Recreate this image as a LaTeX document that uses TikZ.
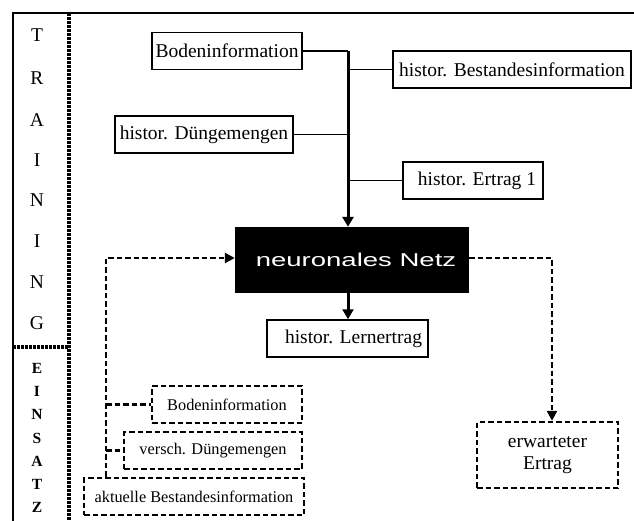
\documentclass[tikz,border=0pt]{standalone}
\usepackage{fontspec}
\setmainfont{Liberation Serif}
\newfontfamily\netfont{Liberation Sans}
\usetikzlibrary{arrows.meta}
\tikzset{
  solidbox/.style={draw=black, line width=1.5pt, minimum height=37pt, inner sep=0pt,
    font=\fontsize{19.5}{22}\selectfont},
  dashbox/.style={draw=black, line width=2.4pt, dash pattern=on 5.5pt off 3pt, minimum height=37pt, inner sep=0pt,
    font=\fontsize{16.3}{19}\selectfont},
  thinline/.style={line width=1.5pt},
  spine/.style={line width=3pt, -{Triangle[length=10pt,width=11pt]}},
  dashline/.style={line width=2.4pt, dash pattern=on 5.5pt off 3pt},
  dasharrow/.style={dashline, -{Triangle[length=10pt,width=10pt]}},
  letter/.style={font=\fontsize{19.5}{22}\selectfont},
  bletter/.style={font=\bfseries\fontsize{15.5}{18}\selectfont},
  divider/.style={line width=3.6pt, dash pattern=on 2.6pt off 1.4pt},
}
\begin{document}
\begin{tikzpicture}[x=1pt,y=-1pt]
\useasboundingbox (0,0) rectangle (634,521);
% frame
\draw[line width=2.6pt] (13,523) -- (13,13) -- (636,13);
\draw[divider] (69,13) -- (69,521);
\draw[divider] (13,347) -- (69,347);
% TRAINING
\node[letter] (t1) at (37,35) {T};
\node[letter] (t2) at (37,78) {R};
\node[letter] (t3) at (37,120) {A};
\node[letter] (t4) at (37,160) {I};
\node[letter] (t5) at (37,200) {N};
\node[letter] (t6) at (37,241) {I};
\node[letter] (t7) at (37,282) {N};
\node[letter] (t8) at (37,323) {G};
% EINSATZ
\node[bletter] (e1) at (37,368) {E};
\node[bletter] (e2) at (37,391) {I};
\node[bletter] (e3) at (37,414) {N};
\node[bletter] (e4) at (37,438) {S};
\node[bletter] (e5) at (37,461) {A};
\node[bletter] (e6) at (37,484) {T};
\node[bletter] (e7) at (37,507) {Z};
% training nodes
\node[solidbox, minimum width=150pt] (bod1) at (227,51) {Bodeninformation};
\node[solidbox, minimum width=238pt] (bestand) at (512,69.5) {histor. Bestandesinformation};
\node[solidbox, minimum width=178pt] (dung1) at (204,134.5) {histor. Düngemengen};
\node[solidbox, minimum width=140pt] (ertrag1) at (473,180.5) {\hspace{8pt}histor. Ertrag 1};
\node[fill=black, minimum width=234pt, minimum height=66pt, inner sep=0pt] (netz) at (352,260)
  {\hspace{8pt}\color{white}\netfont\fontsize{18.6}{20}\selectfont\scalebox{1.48}[1]{neuronales Netz}};
\node[solidbox, minimum width=161pt] (lern) at (347.5,338.5) {\hspace{12pt}histor. Lernertrag};
% einsatz nodes
\node[dashbox, minimum width=141pt, minimum height=66pt, font=\fontsize{19.5}{22.5}\selectfont, align=center] (erw) at (547.5,455) {erwarteter\\Ertrag};
\node[dashbox, minimum width=150pt] (bod2) at (227,404.5) {Bodeninformation};
\node[dashbox, minimum width=178pt] (dung2) at (213,450.5) {versch. Düngemengen};
\node[dashbox, minimum width=220pt] (akt) at (194,496.5) {aktuelle Bestandesinformation};
% training connectors
\coordinate (sp) at (348,51);
\draw[thinline] (bod1.east) -- (sp);
\draw[thinline] (bestand.west) -- (bestand.west -| sp);
\draw[thinline] (dung1.east) -- (dung1.east -| sp);
\draw[thinline] (ertrag1.west) -- (ertrag1.west -| sp);
\draw[spine] (sp) -- (sp |- netz.north);
\draw[spine] (sp |- netz.south) -- (sp |- lern.north);
% einsatz connectors
\coordinate (rx) at (552,258);
\coordinate (lx) at (106,258);
\draw[dasharrow] (netz.east |- rx) -- (rx) -- (rx |- erw.north);
\draw[dasharrow] (lx |- akt.north) -- (lx) -- (netz.west |- lx);
\draw[dashline] (lx |- bod2.west) -- (bod2.west);
\draw[dashline] (lx |- dung2.west) -- (dung2.west);
\end{tikzpicture}
\end{document}
